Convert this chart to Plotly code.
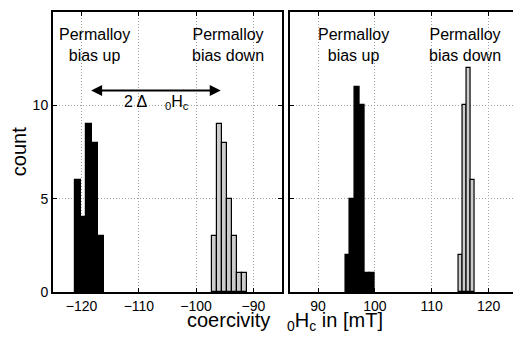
import plotly.graph_objects as go

# ---- data ----
# left panel (negative field), histogram bin centres and counts
left_up_centers = [-120.69, -119.67, -118.65, -117.63, -116.61]
left_up_counts = [6, 4, 9, 8, 3]
left_up_width = 1.02
left_down_centers = [-96.86, -95.98, -95.10, -94.22, -93.33, -92.45, -91.57]
left_down_counts = [3, 9, 8, 5, 3, 1, 1]
left_down_width = 0.88
# right panel (positive field)
right_up_centers = [95.20, 96.05, 96.90, 97.75, 98.60, 99.45]
right_up_counts = [2, 5, 11, 10, 1, 1]
right_up_width = 0.85
right_down_centers = [115.15, 115.85, 116.55, 117.25]
right_down_counts = [2, 10, 12, 6]
right_down_width = 0.70

left_xticks = [-120, -110, -100, -90]
right_xticks = [90, 100, 110, 120]
yticks = [0, 5, 10]
left_xrange = [-125, -85]
right_xrange = [85, 125]
yrange = [0, 15]

arrow_x = [-118.6, -95.7]
arrow_y = 10.8
delta_label_pos = (-112.9, 10.15)

label_up = "Permalloy<br>bias up"
label_down = "Permalloy<br>bias down"
label_pos = [(-117.7, 13.25, "x", "y"), (-94.5, 13.25, "x", "y"),
             (96.3, 13.25, "x2", "y2"), (115.9, 13.25, "x2", "y2")]

FONT = "Liberation Sans, Arial, Helvetica, sans-serif"
BLACK = "#000000"
GRAY = "#cccccc"

fig = go.Figure()

def add_bars(centers, counts, width, color, xa, ya):
    fig.add_trace(go.Bar(
        x=centers, y=counts, width=[width] * len(centers),
        marker=dict(color=color, line=dict(color="#000000", width=1.2)),
        xaxis=xa, yaxis=ya, showlegend=False, hoverinfo="x+y"))

add_bars(left_up_centers, left_up_counts, left_up_width, BLACK, "x", "y")
add_bars(left_down_centers, left_down_counts, left_down_width, GRAY, "x", "y")
add_bars(right_up_centers, right_up_counts, right_up_width, BLACK, "x2", "y2")
add_bars(right_down_centers, right_down_counts, right_down_width, GRAY, "x2", "y2")

axis_common = dict(
    showline=True, linecolor="black", linewidth=2, mirror="ticks",
    ticks="inside", ticklen=4, tickwidth=1, tickcolor="black",
    showgrid=True, gridcolor="#a0a0a0", griddash="1px,2px", gridwidth=1,
    zeroline=False, tickfont=dict(family=FONT, size=14, color="black"),
)

# the page body adds an 8px margin, so the figure is sized to compensate
fig.update_layout(
    width=513, height=334,
    margin=dict(l=45, r=2, t=2, b=50),
    paper_bgcolor="white", plot_bgcolor="white",
    bargap=0, barmode="overlay",
    font=dict(family=FONT, color="black"),
    xaxis=dict(domain=[0, 0.4936], range=left_xrange, tickvals=left_xticks,
               anchor="y", **axis_common),
    yaxis=dict(range=yrange, tickvals=yticks, anchor="x", **axis_common),
    xaxis2=dict(domain=[0.51, 1.0], range=right_xrange, tickvals=right_xticks,
                anchor="y2", **axis_common),
    yaxis2=dict(range=yrange, tickvals=yticks, anchor="x2", showticklabels=False,
                **axis_common),
)

# text labels above the peaks
for i, (x, y, xr, yr) in enumerate(label_pos):
    fig.add_annotation(x=x, y=y, xref=xr, yref=yr,
                       text=label_up if i % 2 == 0 else label_down,
                       showarrow=False, font=dict(family=FONT, size=16, color="black"),
                       xanchor="center", yanchor="middle", align="center")

# double-headed arrow
fig.add_annotation(x=arrow_x[1], y=arrow_y, ax=arrow_x[0], ay=arrow_y,
                   xref="x", yref="y", axref="x", ayref="y",
                   text="", showarrow=True, arrowhead=2, startarrowhead=2,
                   arrowside="end+start", arrowsize=1.1, startarrowsize=1.1,
                   arrowwidth=2, arrowcolor="black")
fig.add_annotation(x=delta_label_pos[0], y=delta_label_pos[1], xref="x", yref="y",
                   text="2 \u0394\u00a0\u00a0\u00a0\u00a0<sub>0</sub>H<sub>c</sub>",
                   showarrow=False, xanchor="left", yanchor="middle",
                   font=dict(family=FONT, size=16, color="black"))

# axis titles
fig.add_annotation(x=0.5, y=-0.105, xref="paper", yref="paper",
                   text="coercivity\u00a0\u00a0\u00a0<sub>0</sub>H<sub>c</sub> in [mT]",
                   showarrow=False, xanchor="center", yanchor="middle",
                   font=dict(family=FONT, size=20, color="black"))
fig.add_annotation(x=-0.073, y=0.5, xref="paper", yref="paper",
                   text="count", textangle=-90, showarrow=False,
                   xanchor="center", yanchor="middle",
                   font=dict(family=FONT, size=20, color="black"))

fig.write_html("out.html")
